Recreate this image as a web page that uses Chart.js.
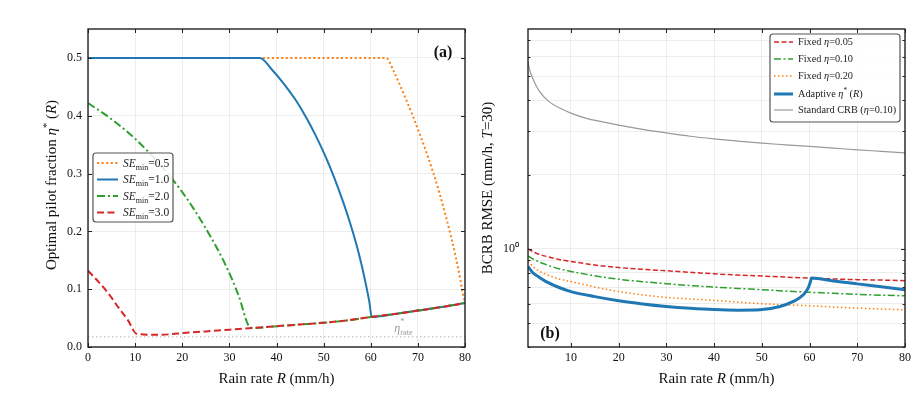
<!DOCTYPE html>
<html>
<head>
<meta charset="utf-8">
<script src="https://cdn.jsdelivr.net/npm/chart.js@4.4.1/dist/chart.umd.min.js"></script>
<style>
  body { margin: 0; background: #fff; width: 917px; height: 405px; overflow: hidden; position: relative; }
  #wa { position: absolute; left: 0; top: 0; }
  #wb { position: absolute; left: 470px; top: 0; }
</style>
</head>
<body>
<div id="wa"><canvas id="ca" width="480" height="405"></canvas></div>
<div id="wb"><canvas id="cb" width="447" height="405"></canvas></div>
<script>
// ---- panel (a): optimal pilot fraction vs rain rate ----
const floorR   = [10.8, 15, 20, 25, 30, 35, 40, 45, 50, 55, 60, 65, 70, 75, 80];
const floorEta = [0.019, 0.021, 0.024, 0.027, 0.030, 0.033, 0.036, 0.039, 0.042, 0.046, 0.052, 0.057, 0.063, 0.069, 0.076];

const se05R   = [0, 63.3, 64.8, 66.1, 67.5, 69.0, 71.0, 73.2, 74.6, 76.0, 77.0, 78.0, 79.0, 79.6, 80];
const se05Eta = [0.5, 0.5, 0.478, 0.455, 0.428, 0.398, 0.355, 0.303, 0.266, 0.224, 0.192, 0.157, 0.117, 0.09, 0.076];

const se10R   = [0, 36.5, 39, 41.4, 44, 46.3, 48.3, 50.2, 52.2, 54.1, 55.6, 56.9, 58.0, 59.0, 59.7, 60.2];
const se10Eta = [0.5, 0.5, 0.48, 0.457, 0.428, 0.397, 0.366, 0.333, 0.294, 0.252, 0.215, 0.179, 0.144, 0.107, 0.078, 0.052];

const se20R   = [0, 5, 10, 15, 20, 25, 29, 32, 34];
const se20Eta = [0.422, 0.394, 0.360, 0.318, 0.268, 0.205, 0.145, 0.088, 0.038];

const se30R   = [0, 2.2, 4.3, 6.4, 8.5, 10.3];
const se30Eta = [0.132, 0.113, 0.093, 0.069, 0.046, 0.023];

const etaRate = 0.0175;
const xTicksA = [0, 10, 20, 30, 40, 50, 60, 70, 80];
const yTicksA = [0, 0.1, 0.2, 0.3, 0.4, 0.5];

// ---- panel (b): BCRB RMSE vs rain rate ----
const rCrb  = [1, 1.25, 2, 3.3, 5.4, 8.2, 10, 13.2, 16.6, 20, 25, 30, 35, 40, 45, 50, 55, 60, 65, 70, 75, 80];
const crb   = [5.75, 5.4, 4.9, 4.38, 3.95, 3.68, 3.55, 3.38, 3.27, 3.17, 3.05, 2.95, 2.86, 2.79, 2.73, 2.68, 2.64, 2.60, 2.56, 2.52, 2.485, 2.45];

const rFix  = [1, 2, 3, 5, 7.5, 10, 15, 20, 25, 30, 35, 40, 45, 50, 55, 60, 65, 70, 75, 80];
const fix05 = [1.0, 0.975, 0.955, 0.93, 0.905, 0.889, 0.86, 0.84, 0.826, 0.815, 0.803, 0.792, 0.783, 0.776, 0.768, 0.761, 0.755, 0.75, 0.747, 0.743];
const fix10 = [0.937, 0.91, 0.89, 0.86, 0.83, 0.81, 0.777, 0.753, 0.736, 0.722, 0.71, 0.70, 0.691, 0.683, 0.674, 0.667, 0.66, 0.654, 0.649, 0.645];
const fix20 = [0.889, 0.85, 0.82, 0.785, 0.755, 0.737, 0.70, 0.671, 0.651, 0.635, 0.626, 0.618, 0.608, 0.599, 0.593, 0.588, 0.581, 0.575, 0.570, 0.566];

const rAd   = [1, 2, 3, 4.7, 7.5, 10, 15, 20, 25, 30, 35, 40, 45, 49.6, 53.8, 56.6, 58.7, 59.7, 60.2, 60.4, 65, 70, 75, 80];
const adapt = [0.848, 0.80, 0.775, 0.738, 0.697, 0.671, 0.64, 0.616, 0.598, 0.584, 0.574, 0.567, 0.564, 0.566, 0.584, 0.612, 0.651, 0.693, 0.737, 0.761, 0.741, 0.721, 0.702, 0.683];

const xTicksB = [10, 20, 30, 40, 50, 60, 70, 80];
const yTicksB = [0.4, 0.5, 0.6, 0.7, 0.8, 0.9, 1, 2, 3, 4, 5, 6, 7];

const blue = '#1f77b4', orange = '#ff7f0e', green = '#2ca02c', red = '#d62728';
const serif = "'Liberation Serif','Times New Roman',serif";

function pts(xs, ys) { return xs.map((x, i) => ({x: x, y: ys[i]})); }
// a drop curve that then follows the eta floor
function withFloor(xs, ys) {
  const last = xs[xs.length - 1];
  const fx = floorR.filter(r => r > last + 0.5);
  const fy = floorEta.slice(floorR.length - fx.length);
  return pts(xs.concat(fx), ys.concat(fy));
}

// mixed italic / sub / sup text
function richText(ctx, segs, x, y, size, align) {
  let w = 0;
  const parts = segs.map(s => {
    if (typeof s === 'string') s = {t: s};
    const sz = (s.sub || s.sup) ? size * 0.7 : size;
    const font = (s.b ? 'bold ' : '') + (s.i ? 'italic ' : '') + sz + 'px ' + serif;
    ctx.font = font;
    const p = {t: s.t, font: font, dx: w, dy: s.sub ? size * 0.25 : s.sup ? -size * 0.42 : 0};
    w += ctx.measureText(s.t).width;
    return p;
  });
  const x0 = align === 'center' ? x - w / 2 : align === 'right' ? x - w : x;
  ctx.textAlign = 'left';
  ctx.textBaseline = 'alphabetic';
  parts.forEach(p => { ctx.font = p.font; ctx.fillText(p.t, x0 + p.dx, y + p.dy); });
}

function drawLegend(chart, box, rows, size) {
  const ctx = chart.ctx;
  ctx.save();
  ctx.beginPath();
  ctx.roundRect(box.x0, box.y0, box.x1 - box.x0, box.y1 - box.y0, 3);
  ctx.fillStyle = 'rgba(255,255,255,0.85)';
  ctx.fill();
  ctx.strokeStyle = '#555';
  ctx.lineWidth = 1.2;
  ctx.stroke();
  rows.forEach(r => {
    const ds = chart.data.datasets[r.ds];
    ctx.strokeStyle = ds.borderColor;
    ctx.lineWidth = ds.borderWidth;
    ctx.setLineDash(ds.borderDash || []);
    ctx.beginPath();
    ctx.moveTo(box.sx0, r.y);
    ctx.lineTo(box.sx1, r.y);
    ctx.stroke();
    ctx.setLineDash([]);
    ctx.fillStyle = '#222';
    richText(ctx, r.label, box.tx, r.y + size * 0.33, size, 'left');
  });
  ctx.restore();
}

// black frame with inward ticks on all four sides
const framePlugin = {
  id: 'frame',
  afterDraw(chart) {
    const {ctx, chartArea: a, scales} = chart;
    ctx.save();
    ctx.strokeStyle = '#222';
    ctx.lineWidth = 1;
    ctx.beginPath();
    scales.x.ticks.forEach(t => {
      const px = Math.round(scales.x.getPixelForValue(t.value)) + 0.5;
      ctx.moveTo(px, a.bottom); ctx.lineTo(px, a.bottom - 4);
      ctx.moveTo(px, a.top); ctx.lineTo(px, a.top + 4);
    });
    scales.y.ticks.forEach(t => {
      const py = Math.round(scales.y.getPixelForValue(t.value)) + 0.5;
      const len = scales.y.type === 'logarithmic' && t.value !== 1 ? 2.5 : 4;
      ctx.moveTo(a.left, py); ctx.lineTo(a.left + len, py);
      ctx.moveTo(a.right, py); ctx.lineTo(a.right - len, py);
    });
    ctx.stroke();
    ctx.lineWidth = 1.4;
    ctx.strokeRect(a.left, a.top, a.right - a.left, a.bottom - a.top);
    ctx.restore();
  }
};

const tickFont = {family: serif, size: 12};
const gridCol = 'rgba(0,0,0,0.07)';

// ---------------- chart (a) ----------------
new Chart(document.getElementById('ca'), {
  type: 'line',
  data: {
    datasets: [
      {label: 'SEmin=0.5', data: pts(se05R, se05Eta), borderColor: orange, borderWidth: 2, borderDash: [2, 2.6], order: 3},
      {label: 'SEmin=1.0', data: withFloor(se10R, se10Eta), borderColor: blue, borderWidth: 2, order: 2},
      {label: 'SEmin=2.0', data: withFloor(se20R, se20Eta), borderColor: green, borderWidth: 2, borderDash: [8, 3, 2, 3], order: 1},
      {label: 'SEmin=3.0', data: withFloor(se30R, se30Eta), borderColor: red, borderWidth: 2, borderDash: [7, 3.5], order: 0},
      {label: 'eta_rate', data: pts([0, 80], [etaRate, etaRate]), borderColor: '#b0b0b0', borderWidth: 1, borderDash: [1.5, 2.5], order: 4}
    ]
  },
  options: {
    responsive: false,
    animation: false,
    layout: {padding: {top: 29, right: 15, left: 0, bottom: 0}},
    elements: {point: {radius: 0}, line: {cubicInterpolationMode: 'monotone'}},
    plugins: {legend: {display: false}, tooltip: {enabled: false}},
    scales: {
      x: {
        type: 'linear', min: 0, max: 80,
        afterFit: s => { s.height = 58; },
        afterBuildTicks: s => { s.ticks = xTicksA.map(v => ({value: v})); },
        ticks: {color: '#111', font: tickFont, padding: 4, maxRotation: 0, autoSkip: false},
        grid: {color: gridCol, drawTicks: false},
        border: {display: false}
      },
      y: {
        type: 'linear', min: 0, max: 0.55,
        afterFit: s => { s.width = 88; },
        afterBuildTicks: s => { s.ticks = yTicksA.map(v => ({value: v})); },
        ticks: {color: '#111', font: tickFont, padding: 6, autoSkip: false, callback: v => v.toFixed(1)},
        grid: {color: gridCol, drawTicks: false},
        border: {display: false}
      }
    }
  },
  plugins: [{
    id: 'extrasA',
    afterDatasetsDraw(chart) {
      const {ctx, chartArea: a, scales} = chart;
      ctx.save();
      // eta_rate label
      ctx.fillStyle = '#999';
      const lx = scales.x.getPixelForValue(65), ly = scales.y.getPixelForValue(etaRate) - 5;
      richText(ctx, [{t: 'η', i: 1}, {t: 'rate', sub: 1}], lx, ly, 12, 'left');
      ctx.font = '8px ' + serif;
      ctx.fillText('*', lx + 6, ly - 8);
      // panel label
      ctx.fillStyle = '#111';
      richText(ctx, [{t: '(a)', b: 1}], 443, 57, 16, 'center');
      // axis titles
      richText(ctx, ['Rain rate ', {t: 'R', i: 1}, ' (mm/h)'], (a.left + a.right) / 2, 383, 15, 'center');
      ctx.translate(56, 185);
      ctx.rotate(-Math.PI / 2);
      richText(ctx, ['Optimal pilot fraction ', {t: 'η', i: 1}, {t: '*', sup: 1}, ' (', {t: 'R', i: 1}, ')'], 0, 0, 15, 'center');
      ctx.restore();
      drawLegend(chart, {x0: 93, y0: 153, x1: 173, y1: 222, sx0: 97, sx1: 118, tx: 123}, [
        {ds: 0, y: 163, label: [{t: 'SE', i: 1}, {t: 'min', sub: 1}, '=0.5']},
        {ds: 1, y: 179.5, label: [{t: 'SE', i: 1}, {t: 'min', sub: 1}, '=1.0']},
        {ds: 2, y: 196, label: [{t: 'SE', i: 1}, {t: 'min', sub: 1}, '=2.0']},
        {ds: 3, y: 212.5, label: [{t: 'SE', i: 1}, {t: 'min', sub: 1}, '=3.0']}
      ], 11.5);
    }
  }, framePlugin]
});

// ---------------- chart (b) ----------------
new Chart(document.getElementById('cb'), {
  type: 'line',
  data: {
    datasets: [
      {label: 'Fixed η=0.05', data: pts(rFix, fix05), borderColor: red, borderWidth: 1.5, borderDash: [5, 2.5], order: 4},
      {label: 'Fixed η=0.10', data: pts(rFix, fix10), borderColor: green, borderWidth: 1.5, borderDash: [7, 2.5, 2, 2.5], order: 3},
      {label: 'Fixed η=0.20', data: pts(rFix, fix20), borderColor: orange, borderWidth: 1.5, borderDash: [1.5, 2.5], order: 2},
      {label: 'Adaptive η*(R)', data: pts(rAd, adapt), borderColor: blue, borderWidth: 3, order: 1},
      {label: 'Standard CRB (η=0.10)', data: pts(rCrb, crb), borderColor: '#999', borderWidth: 1.2, order: 0}
    ]
  },
  options: {
    responsive: false,
    animation: false,
    layout: {padding: {top: 29, right: 12, left: 0, bottom: 0}},
    elements: {point: {radius: 0}, line: {cubicInterpolationMode: 'monotone'}},
    plugins: {legend: {display: false}, tooltip: {enabled: false}},
    scales: {
      x: {
        type: 'linear', min: 1, max: 80,
        afterFit: s => { s.height = 58; },
        afterBuildTicks: s => { s.ticks = xTicksB.map(v => ({value: v})); },
        ticks: {color: '#111', font: tickFont, padding: 4, maxRotation: 0, autoSkip: false},
        grid: {color: gridCol, drawTicks: false},
        border: {display: false}
      },
      y: {
        type: 'logarithmic', min: 0.4, max: 7.78,
        afterFit: s => { s.width = 58; },
        afterBuildTicks: s => { s.ticks = yTicksB.map(v => ({value: v})); },
        ticks: {color: '#111', font: tickFont, padding: 9, autoSkip: false, callback: v => v === 1 ? '10⁰' : ''},
        grid: {color: gridCol, drawTicks: false},
        border: {display: false}
      }
    }
  },
  plugins: [{
    id: 'extrasB',
    afterDatasetsDraw(chart) {
      const {ctx, chartArea: a} = chart;
      ctx.save();
      ctx.fillStyle = '#111';
      richText(ctx, [{t: '(b)', b: 1}], 80, 338, 16, 'center');
      richText(ctx, ['Rain rate ', {t: 'R', i: 1}, ' (mm/h)'], (a.left + a.right) / 2, 383, 15, 'center');
      ctx.translate(22, 188);
      ctx.rotate(-Math.PI / 2);
      richText(ctx, ['BCRB RMSE (mm/h, ', {t: 'T', i: 1}, '=30)'], 0, 0, 15, 'center');
      ctx.restore();
      drawLegend(chart, {x0: 300, y0: 34, x1: 430, y1: 122, sx0: 304, sx1: 323, tx: 328}, [
        {ds: 0, y: 42, label: ['Fixed ', {t: 'η', i: 1}, '=0.05']},
        {ds: 1, y: 59, label: ['Fixed ', {t: 'η', i: 1}, '=0.10']},
        {ds: 2, y: 76, label: ['Fixed ', {t: 'η', i: 1}, '=0.20']},
        {ds: 3, y: 94, label: ['Adaptive ', {t: 'η', i: 1}, {t: '*', sup: 1}, ' (', {t: 'R', i: 1}, ')']},
        {ds: 4, y: 110, label: ['Standard CRB (', {t: 'η', i: 1}, '=0.10)']}
      ], 10.3);
    }
  }, framePlugin]
});
</script>
</body>
</html>
